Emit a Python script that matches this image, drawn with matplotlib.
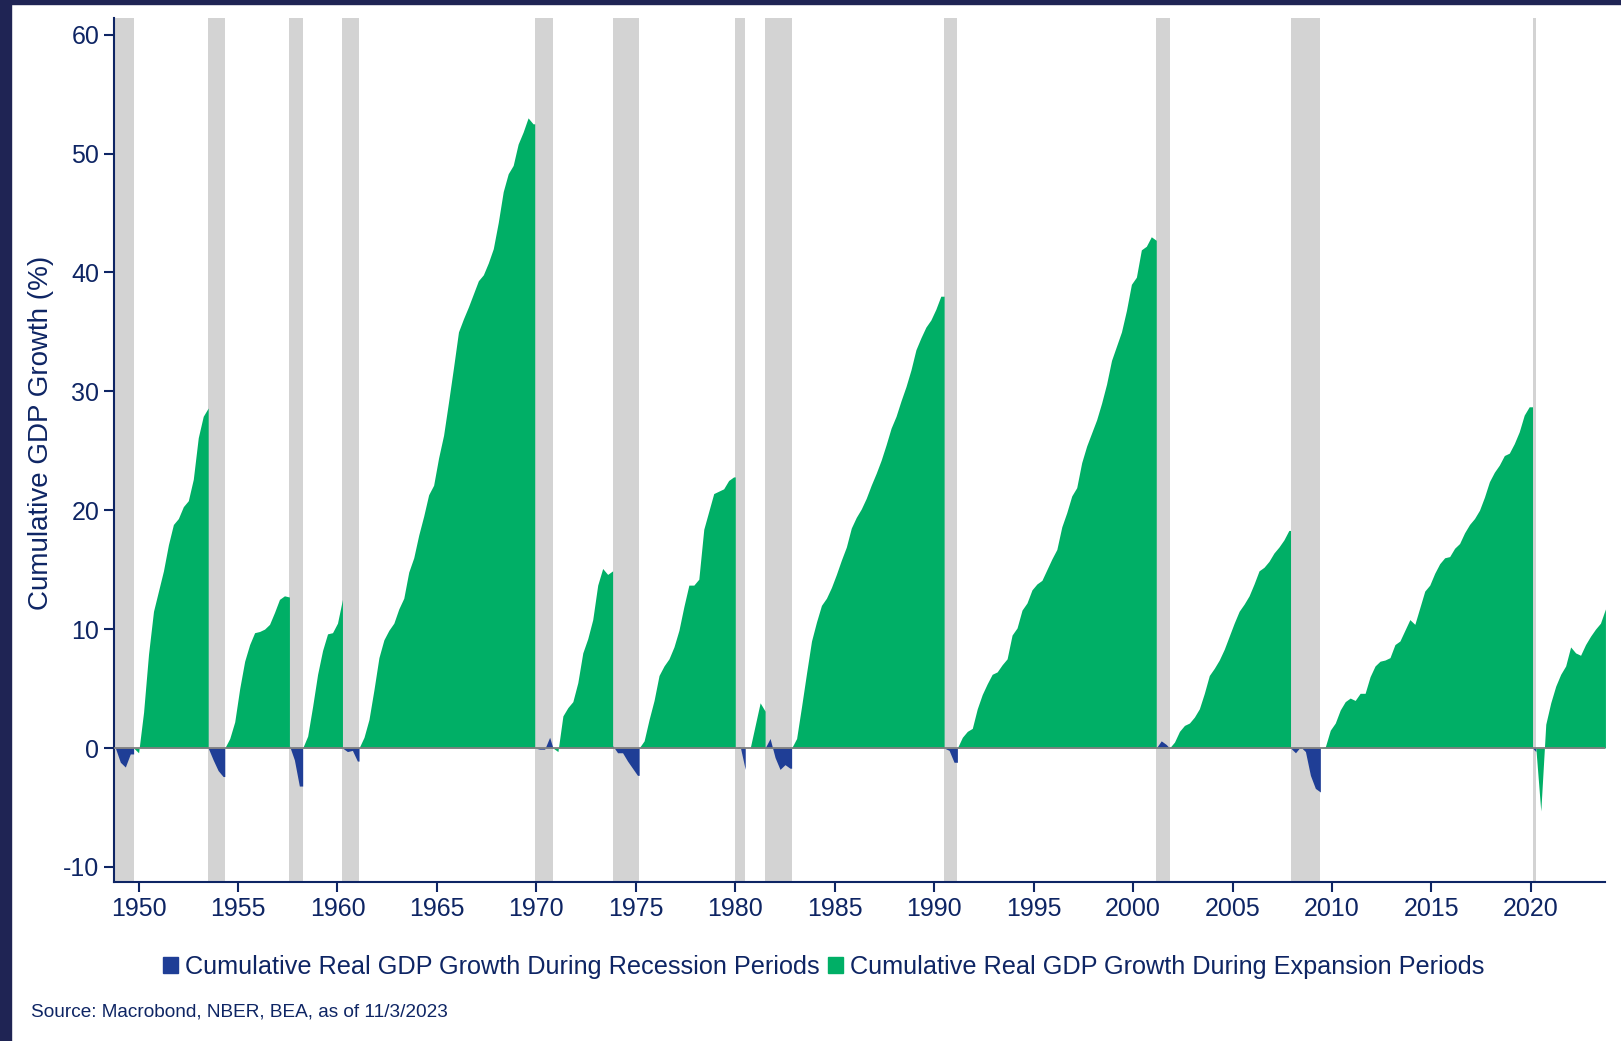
import numpy as np
import matplotlib
matplotlib.use("Agg")
import matplotlib.pyplot as plt
from matplotlib.patches import Patch, Rectangle

plt.rcParams['font.family'] = ['Liberation Sans', 'DejaVu Sans']
plt.rcParams['axes.unicode_minus'] = False

NAVY = "#0e2564"
GREEN = "#00af66"
BLUE = "#1f3e96"
SHADE = "#d3d3d3"

# NBER cycle dates: peak = start of recession, trough = end of recession
peaks = ["1948-11", "1953-07", "1957-08", "1960-04", "1969-12", "1973-11",
         "1980-01", "1981-07", "1990-07", "2001-03", "2007-12", "2020-02"]
troughs = ["1949-10", "1954-05", "1958-04", "1961-02", "1970-11", "1975-03",
           "1980-07", "1982-11", "1991-03", "2001-11", "2009-06", "2020-04"]
last_obs = "2023-10"

# cumulative real GDP growth (%) since the start of each phase, quarterly steps
rec_1948 = [0, -1.2, -1.6, -0.5]
rec_1953 = [0, -1.0, -1.9, -2.4]
rec_1957 = [0.2, -1.0, -3.2]
rec_1960 = [0, -0.3, -0.2, -1.1]
rec_1969 = [0, -0.1, -0.1, 0.9, 0]
rec_1973 = [0.2, -0.4, -0.4, -1.1, -1.7, -2.3]
rec_1980 = [0, 0.1, -1.8]
rec_1981 = [0, 0.8, -0.8, -1.8, -1.4, -1.7]
rec_1990 = [0, -0.2, -1.2]
rec_2001 = [0, 0.6, 0.3, 0]
rec_2007 = [0, -0.4, 0.1, -0.3, -2.3, -3.4, -3.7]
rec_2020 = [0, -0.3]

exp_1949 = [0, -0.4, 3.0, 7.9, 11.5, 13.2, 14.9, 17.1, 18.8, 19.3, 20.3, 20.8,
            22.6, 26.1, 27.9, 28.6]
exp_1954 = [0, 0.8, 2.2, 5.0, 7.3, 8.7, 9.7, 9.8, 10.0, 10.4, 11.4, 12.5, 12.8, 12.7]
exp_1958 = [0, 1.0, 3.5, 6.2, 8.2, 9.6, 9.7, 10.5, 12.5]
exp_1961 = [0, 0.9, 2.4, 4.9, 7.6, 9.1, 9.9, 10.5, 11.7, 12.6, 14.8, 16.0,
            17.9, 19.5, 21.3, 22.1, 24.4, 26.3, 29.1, 32.0, 35.0, 36.1, 37.1, 38.2,
            39.3, 39.8, 40.8, 42.0, 44.2, 46.8, 48.3, 49.0, 50.8, 51.8, 53.0, 52.5]
exp_1970 = [0, -0.3, 2.7, 3.4, 3.9, 5.5, 8.0, 9.2, 10.8, 13.7, 15.1, 14.6, 14.9]
exp_1975 = [0, 0.6, 2.4, 4.0, 6.1, 6.9, 7.5, 8.5, 9.9, 11.9, 13.7, 13.7,
            14.2, 18.4, 19.9, 21.4, 21.6, 21.8, 22.5, 22.8]
exp_1980 = [0, 0, 1.9, 3.8, 3.1]
exp_1982 = [0, 0.8, 3.5, 6.3, 9.0, 10.6, 12.0, 12.6, 13.5, 14.6, 15.8, 16.9,
            18.5, 19.4, 20.1, 21.0, 22.1, 23.1, 24.2, 25.5, 26.9, 27.9, 29.2, 30.4,
            31.8, 33.5, 34.5, 35.4, 36.0, 36.9, 38.0]
exp_1991 = [0, 0.9, 1.4, 1.65, 3.3, 4.5, 5.4, 6.2, 6.4, 7.0, 7.5, 9.5,
            10.1, 11.6, 12.2, 13.3, 13.8, 14.1, 15.0, 15.9, 16.7, 18.6, 19.8, 21.2,
            21.9, 24.0, 25.4, 26.5, 27.6, 29.0, 30.6, 32.6, 33.8, 35.0, 36.8, 39.0,
            39.6, 41.9, 42.2, 43.0, 42.7]
exp_2001 = [0, 0.5, 1.4, 1.9, 2.1, 2.6, 3.3, 4.6, 6.1, 6.7, 7.4, 8.3,
            9.4, 10.5, 11.5, 12.1, 12.8, 13.8, 14.9, 15.2, 15.7, 16.4, 16.9, 17.5, 18.3]
exp_2009 = [0, 0.1, 1.5, 2.1, 3.2, 3.9, 4.2, 4.0, 4.6, 4.6, 6.0, 6.9,
            7.3, 7.4, 7.6, 8.7, 9.0, 9.9, 10.8, 10.4, 11.8, 13.2, 13.7, 14.7,
            15.5, 16.0, 16.1, 16.8, 17.2, 18.1, 18.8, 19.3, 20.0, 21.1, 22.4, 23.2,
            23.8, 24.6, 24.8, 25.6, 26.6, 28.0, 28.7]
exp_2020 = [0, -5.3, 2.0, 3.8, 5.2, 6.2, 6.9, 8.5, 8.0, 7.8, 8.7, 9.4, 10.0, 10.5, 11.7]

recessions = [rec_1948, rec_1953, rec_1957, rec_1960, rec_1969, rec_1973,
              rec_1980, rec_1981, rec_1990, rec_2001, rec_2007, rec_2020]
expansions = [exp_1949, exp_1954, exp_1958, exp_1961, exp_1970, exp_1975,
              exp_1980, exp_1982, exp_1991, exp_2001, exp_2009, exp_2020]


def to_year(s):
    y, m = s.split("-")
    return int(y) + (int(m) - 1) / 12


def phase_xy(start, end, vals):
    x = np.minimum(start + 0.25 * np.arange(len(vals)), end)
    y = np.array(vals, dtype=float)
    if x[-1] < end:
        x = np.append(x, end)
        y = np.append(y, y[-1])
    return x, y


fig = plt.figure(figsize=(16.21, 10.41), dpi=100)
ax = fig.add_axes([0.0702, 0.1524, 0.9202, 0.8303])

p = [to_year(s) for s in peaks]
t = [to_year(s) for s in troughs]
exp_ends = p[1:] + [to_year(last_obs)]

for a, b in zip(p, t):
    ax.axvspan(a, b, color=SHADE, lw=0, zorder=0)

for a, b, vals in zip(p, t, recessions):
    x, y = phase_xy(a, b, vals)
    ax.fill_between(x, 0, y, color=BLUE, lw=0, zorder=2)

for a, b, vals in zip(t, exp_ends, expansions):
    x, y = phase_xy(a, b, vals)
    ax.fill_between(x, 0, y, color=GREEN, lw=0, zorder=2)

ax.axhline(0, color="#7f7f7f", lw=1.3, zorder=3)

ax.set_xlim(to_year(peaks[0]) - 0.08, to_year(last_obs))
ax.set_ylim(-11.3, 61.4)
ax.set_xticks(range(1950, 2021, 5))
ax.set_yticks(range(-10, 61, 10))

for side in ["top", "right"]:
    ax.spines[side].set_visible(False)
for side in ["left", "bottom"]:
    ax.spines[side].set_color(NAVY)
    ax.spines[side].set_linewidth(1.5)
ax.tick_params(colors=NAVY, labelsize=18, length=7, width=1.5, direction="out")

ax.set_ylabel("Cumulative GDP Growth (%)", fontsize=20, color=NAVY)
ax.yaxis.set_label_coords(-0.040, 0.52)

handles = [Patch(color=BLUE, label="Cumulative Real GDP Growth During Recession Periods"),
           Patch(color=GREEN, label="Cumulative Real GDP Growth During Expansion Periods")]
leg = fig.legend(handles=handles, loc="center", bbox_to_anchor=(0.508, 0.071), ncol=2,
                 frameon=False, fontsize=18.2, handlelength=0.6, handleheight=0.6,
                 handletextpad=0.25, columnspacing=0.35)
for txt in leg.get_texts():
    txt.set_color(NAVY)

fig.text(0.019, 0.028, "Source: Macrobond, NBER, BEA, as of 11/3/2023",
         fontsize=13.7, color=NAVY, va="center", ha="left")

# dark frame on the left and top edges
fig.patches.append(Rectangle((0, 0), 11 / 1621, 1, transform=fig.transFigure,
                             color="#1f2454", zorder=10))
fig.patches.append(Rectangle((0, 1 - 4 / 1041), 1, 4 / 1041, transform=fig.transFigure,
                             color="#1f2454", zorder=10))

fig.savefig("out.png", dpi=100)
